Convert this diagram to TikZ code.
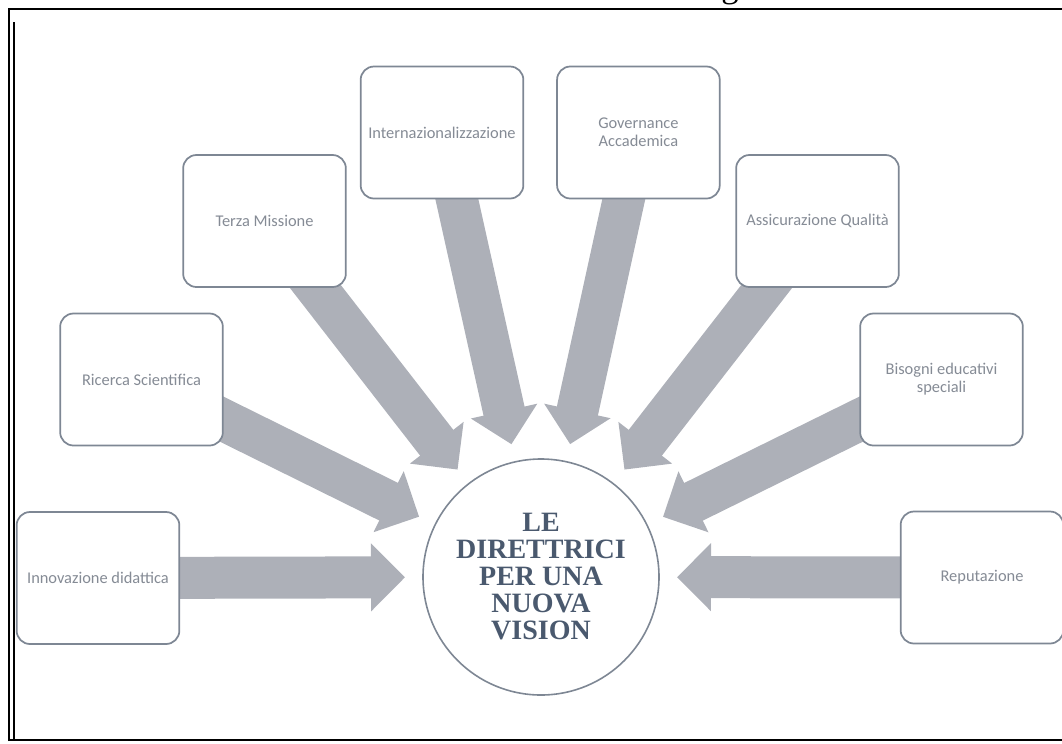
\documentclass[tikz,border=0pt]{standalone}
\usepackage{fontspec}
\setmainfont{Carlito}
\newfontfamily\visionfont{Liberation Serif}
\usetikzlibrary{positioning,calc,arrows.meta,backgrounds}

\definecolor{arrowgray}{HTML}{ADB0B8}
\definecolor{boxline}{HTML}{7E8794}
\definecolor{boxtext}{HTML}{858B95}
\definecolor{visiontext}{HTML}{4A596E}

\tikzset{
	pillar/.style={draw=boxline, line width=1.3pt, fill=white, rounded corners=10pt,
		minimum width=122pt, minimum height=99pt, align=center, text=boxtext,
		font=\fontsize{12.3}{13.5}\selectfont},
	bigarrow/.style={arrowgray, line width=31.5pt, -{Triangle[length=25.5pt,width=49.5pt]}},
}

\begin{document}
\begin{tikzpicture}[x=0.75pt,y=-0.75pt]
	\useasboundingbox (0,0) rectangle (1062,743);

	% cornice
	\draw[line width=2pt] (9,741) -- (9,9) -- (1062,9);
	\draw[line width=1.8pt] (14,22) -- (14,741);
	\draw[line width=2pt] (9,740) -- (1062,740);
	\node[font=\visionfont\fontsize{26}{26}\selectfont, anchor=base] (cap) at (730,-2.5) {g};

	\node[circle, draw=boxline, line width=1.2pt, minimum size=177pt, align=center,
		text=visiontext, font=\visionfont\bfseries\fontsize{21}{20.25}\selectfont] (vis) at (541,577)
		{LE\\DIRETTRICI\\PER UNA\\NUOVA\\VISION};

	\node[pillar] (inn) at (98,578) {Innovazione didattica};
	\node[pillar] (ric) at (141.5,379.5) {Ricerca Scientifica};
	\node[pillar] (ter) at (264.5,221) {Terza Missione};
	\node[pillar] (int) at (442,132.5) {Internazionalizzazione};
	\node[pillar, right=24pt of int] (gov) {Governance\\Accademica};
	\node[pillar] (ass) at (817.5,221) {Assicurazione Qualità};
	\node[pillar] (bis) at (941.5,379.5) {Bisogni educativi\\speciali};
	\node[pillar] (rep) at (982,577.5) {Reputazione};

	\begin{scope}[on background layer]
		\foreach \p in {inn,ric,ter,int,gov,ass,bis,rep}
			\draw[bigarrow] (\p.center) -- ($(vis.center)!102pt!(\p.center)$);
	\end{scope}
\end{tikzpicture}
\end{document}
